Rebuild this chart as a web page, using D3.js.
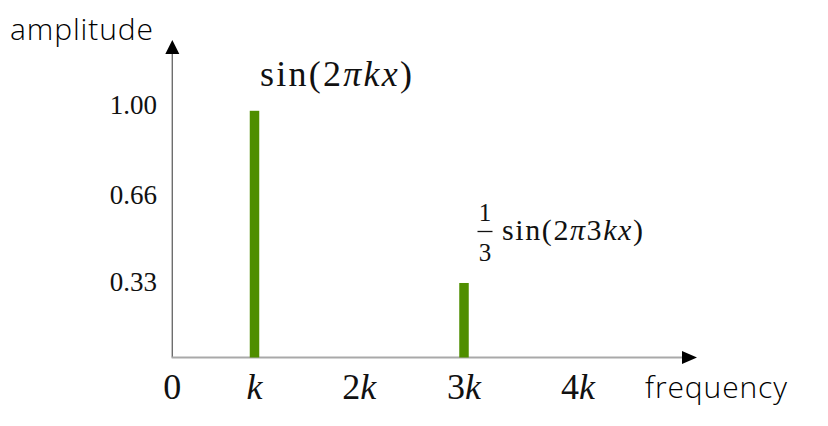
<!DOCTYPE html>
<html><head><meta charset="utf-8">
<script src="https://cdn.jsdelivr.net/npm/d3@7"></script>
<style>html,body{margin:0;padding:0;background:#fff;}svg{display:block;}</style>
</head><body>
<script>
// ---- data ----
const freqs = [1, 3];                 // multiples of k
const amplitudes = [0.98, 0.33];
const yTickValues = [1.00, 0.66, 0.33];
const yTickLabels = ["1.00", "0.66", "0.33"];
const xTickValues = [0, 1, 2, 3, 4];
const xTickLabels = [["0", ""], ["", "k"], ["2", "k"], ["3", "k"], ["4", "k"]];

const W = 828, H = 426;
const svg = d3.select("body").append("svg").attr("width", W).attr("height", H);

const originX = 172.3, axisY = 357.5;
const x = d3.scaleLinear().domain([0, 1, 3, 4]).range([originX, 254.5, 464, 578]);
const y = d3.scaleLinear().domain([0, 1]).range([370.4, 105.5]);

const serif = "'Liberation Serif', 'Times New Roman', serif";
const sans = "'Open Sans', sans-serif";

// y axis
svg.append("line").attr("x1", originX).attr("x2", originX).attr("y1", 53).attr("y2", axisY)
  .attr("stroke", "#6e6e6e").attr("stroke-width", 1.4);
svg.append("path").attr("d", `M${originX},40 L${originX-7},54 L${originX+7},54 Z`).attr("fill", "#000");
// x axis
svg.append("line").attr("x1", originX - 0.7).attr("x2", 683).attr("y1", axisY).attr("y2", axisY)
  .attr("stroke", "#a9a9a9").attr("stroke-width", 2);
svg.append("path").attr("d", `M697,${axisY} L682,${axisY-6.5} L682,${axisY+6.5} Z`).attr("fill", "#000");

// bars
const bw = 9.5;
svg.selectAll("rect.bar").data(freqs).enter().append("rect")
  .attr("x", d => x(d) - bw / 2)
  .attr("width", bw)
  .attr("y", (d, i) => y(amplitudes[i]))
  .attr("height", (d, i) => axisY - y(amplitudes[i]))
  .attr("fill", "#4f8e00");

// y tick labels
svg.selectAll("text.yt").data(yTickValues).enter().append("text")
  .attr("x", 157).attr("y", d => y(d) + 8.5)
  .attr("text-anchor", "end").attr("font-family", serif).attr("font-size", 27)
  .attr("fill", "#111")
  .text((d, i) => yTickLabels[i]);

// x tick labels
const xt = svg.selectAll("text.xt").data(xTickValues).enter().append("text")
  .attr("x", d => x(d)).attr("y", 399)
  .attr("text-anchor", "middle").attr("font-family", serif).attr("font-size", 36)
  .attr("fill", "#111");
xt.append("tspan").text((d, i) => xTickLabels[i][0]);
xt.append("tspan").attr("font-style", "italic").text((d, i) => xTickLabels[i][1]);

// axis titles
svg.append("text").attr("x", 10).attr("y", 40).attr("font-family", sans).attr("font-weight", 300)
  .attr("font-size", 30).attr("fill", "#000").attr("textLength", 143).text("amplitude");
svg.append("text").attr("x", 645).attr("y", 398).attr("font-family", sans).attr("font-weight", 300)
  .attr("font-size", 30).attr("fill", "#000").attr("textLength", 142).text("frequency");

// math annotations
function mathLabel(g, parts) {
  parts.forEach(p => g.append("tspan").attr("font-style", p[1] ? "italic" : "normal").text(p[0]));
}
const l1 = svg.append("text").attr("x", 260).attr("y", 86).attr("font-family", serif)
  .attr("font-size", 36).attr("fill", "#111").attr("textLength", 152);
mathLabel(l1, [["sin(2", false], ["πkx", true], [")", false]]);

// fraction 1/3
const fx = 485;
svg.append("text").attr("x", fx).attr("y", 221).attr("text-anchor", "middle")
  .attr("font-family", serif).attr("font-size", 25).attr("fill", "#111").text("1");
svg.append("line").attr("x1", fx - 7.5).attr("x2", fx + 7.5).attr("y1", 231.5).attr("y2", 231.5)
  .attr("stroke", "#111").attr("stroke-width", 1.3);
svg.append("text").attr("x", fx).attr("y", 261).attr("text-anchor", "middle")
  .attr("font-family", serif).attr("font-size", 25).attr("fill", "#111").text("3");
const l2 = svg.append("text").attr("x", 502).attr("y", 240).attr("font-family", serif)
  .attr("font-size", 30).attr("fill", "#111").attr("textLength", 141);
mathLabel(l2, [["sin(2", false], ["π", true], ["3", false], ["kx", true], [")", false]]);
</script>
</body></html>
